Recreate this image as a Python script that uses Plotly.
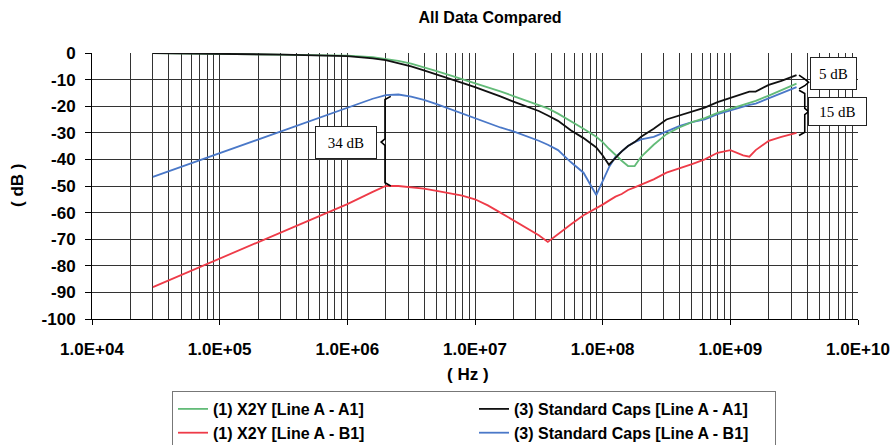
import plotly.graph_objects as go

# ---------------- data ----------------
freq_hz = [3.0e4, 1.0e5, 3.16e5, 1.0e6, 1.58e6, 2.0e6, 2.51e6, 3.16e6, 3.98e6, 5.01e6,
           6.31e6, 7.94e6, 1.0e7, 1.26e7, 1.58e7, 2.0e7, 2.51e7, 3.16e7, 3.72e7, 4.47e7,
           5.62e7, 7.08e7, 8.91e7, 1.0e8, 1.12e8, 1.26e8, 1.41e8, 1.58e8, 1.78e8, 2.0e8,
           2.51e8, 3.16e8, 3.98e8, 5.01e8, 6.31e8, 7.94e8, 1.0e9, 1.26e9, 1.41e9, 1.58e9,
           2.0e9, 2.51e9, 3.3e9]

x2y_a1 = [0.0, -0.3, -0.6, -1.0, -1.6, -2.2, -3.0, -4.0, -5.3, -6.8,
          -8.3, -9.8, -11.3, -12.8, -14.4, -16.2, -17.8, -19.4, -20.8, -22.8,
          -25.8, -28.5, -31.5, -33.5, -36.0, -38.5, -40.5, -42.5, -42.5, -39.0,
          -34.5, -30.5, -28.0, -26.0, -24.5, -22.5, -21.0, -19.5, -19.0, -18.0,
          -16.0, -14.0, -11.5]

std_a1 = [0.0, -0.3, -0.6, -1.2, -2.0, -2.7, -3.8, -5.0, -6.5, -8.0,
          -9.6, -11.2, -12.8, -14.5, -16.3, -18.3, -20.0, -21.8, -23.5, -25.5,
          -29.0, -32.0, -35.5, -38.5, -42.0, -39.5, -37.0, -35.0, -33.5, -31.5,
          -28.5, -25.0, -23.5, -22.0, -20.5, -18.5, -17.0, -15.5, -14.5, -14.5,
          -12.0, -10.5, -8.3]

x2y_b1 = [-88.0, -77.3, -67.0, -56.8, -52.2, -50.0, -50.0, -50.4, -51.0, -51.8,
          -52.6, -53.6, -55.0, -57.3, -60.0, -62.8, -65.5, -68.5, -71.0, -68.0,
          -64.5, -61.0, -58.5, -57.0, -55.5, -54.0, -53.0, -51.5, -50.5, -49.5,
          -47.5, -45.0, -43.5, -41.8, -40.0, -37.5, -36.5, -38.5, -39.0, -36.5,
          -33.0, -31.5, -30.0]

std_b1 = [-46.6, -37.6, -29.0, -20.4, -17.2, -15.8, -15.6, -16.4, -17.6, -19.2,
          -21.0, -22.8, -24.5, -26.2, -28.0, -29.5, -31.2, -33.0, -34.5, -36.5,
          -41.0, -45.0, -53.4, -48.0, -43.0, -39.0, -37.0, -35.0, -33.5, -32.5,
          -31.5, -29.5, -27.5, -26.0, -25.0, -23.0, -21.5, -20.0, -19.5, -19.0,
          -17.0, -15.0, -12.8]

names = ["(1) X2Y [Line A - A1]", "(3) Standard Caps [Line A - A1]",
         "(1) X2Y [Line A - B1]", "(3) Standard Caps [Line A - B1]"]

tick_vals = [1e4, 1e5, 1e6, 1e7, 1e8, 1e9, 1e10]
tick_text = ["1.0E+04", "1.0E+05", "1.0E+06", "1.0E+07", "1.0E+08", "1.0E+09", "1.0E+10"]
y_ticks = list(range(-100, 1, 10))

# brace annotations: (log10 freq, top dB, bottom dB, tip dB, direction,
#                     label, label log10 x, label y, box w, box h)
braces = [
    (6.295, -16.3, -50.0, -33.5, -1, "34 dB", 5.989, -33.6, 60, 31),
    (9.583, -8.3, -13.5, -11.0, 1, "5 dB", 9.807, -7.7, 45, 31),
    (9.583, -14.0, -31.0, -22.0, 1, "15 dB", 9.838, -22.0, 57, 27),
]

GREEN = "#63bb78"
BLACK = "#111111"
RED = "#ee3b48"
BLUE = "#4a78c8"

SANS = "Liberation Sans, Arial, sans-serif"
SERIF = "Liberation Serif, Times New Roman, serif"

fig = go.Figure()
series = [
    (x2y_b1, names[2], RED, 3),
    (std_b1, names[3], BLUE, 4),
    (x2y_a1, names[0], GREEN, 1),
    (std_a1, names[1], BLACK, 2),
]
for vals, nm, col, rank in series:
    fig.add_trace(go.Scatter(x=freq_hz, y=vals, mode="lines", name=nm,
                             line=dict(color=col, width=1.8), legendrank=rank))

for L, top, bot, mid, d, label, lx, ly, bw, bh in braces:
    w, t, s = 0.045, 0.03, 1.2
    bx = [L - d * w, L, L, L + d * t, L, L, L - d * w]
    by = [top, top - s, mid + s, mid, mid - s, bot + s, bot]
    fig.add_trace(go.Scatter(x=[10 ** v for v in bx], y=by, mode="lines",
                             line=dict(color="black", width=1.6),
                             showlegend=False, hoverinfo="skip"))
    fig.add_annotation(x=lx, y=ly, xref="x", yref="y", text=label, showarrow=False,
                       font=dict(family=SERIF, size=15, color="black"),
                       width=bw, height=bh, borderpad=0,
                       bgcolor="white", bordercolor="#222", borderwidth=1)

# axis titles
fig.add_annotation(x=0.491, y=-0.2105, xref="paper", yref="paper", text="<b>( Hz )</b>",
                   showarrow=False, xanchor="center", yanchor="middle",
                   font=dict(family=SANS, size=17, color="black"))
fig.add_annotation(x=-0.0979, y=0.5, xref="paper", yref="paper", text="<b>( dB )</b>",
                   showarrow=False, xanchor="center", yanchor="middle", textangle=-90,
                   font=dict(family=SANS, size=17, color="black"))

tick_font = dict(family=SANS, size=17, color="black")
fig.update_layout(
    width=892, height=445,
    margin=dict(l=92, r=34, t=53, b=126),
    paper_bgcolor="white", plot_bgcolor="white",
    title=dict(text="<b>All Data Compared</b>", x=0.5196, xref="paper", xanchor="center",
               y=1 - 17 / 445, yref="container", yanchor="middle",
               font=dict(family=SANS, size=16, color="black")),
    showlegend=True,
    legend=dict(orientation="h", x=474 / 892, xref="container", xanchor="center",
                y=1 - 391 / 445, yref="container", yanchor="top",
                entrywidth=256, entrywidthmode="pixels",
                font=dict(family=SANS, size=16, color="black", weight="bold"),
                bordercolor="#777", borderwidth=1, bgcolor="white", tracegroupgap=0),
)
fig.update_xaxes(type="log", range=[4, 10], tickvals=tick_vals, automargin=False,
                 ticktext=["<b>%s</b>" % t for t in tick_text],
                 showgrid=True, gridcolor="#333333", gridwidth=1,
                 minor=dict(dtick="D1", showgrid=True, gridcolor="#333333", gridwidth=1, ticks=""),
                 ticks="outside", ticklen=5, tickcolor="black", ticklabelstandoff=10,
                 showline=True, linecolor="black", linewidth=1,
                 tickfont=tick_font, zeroline=False)
fig.update_yaxes(range=[-100, 0], tickvals=y_ticks, automargin=False,
                 ticktext=["<b>%d</b>" % v for v in y_ticks],
                 showgrid=True, gridcolor="#333333", gridwidth=1,
                 ticks="outside", ticklen=6, tickcolor="black", ticklabelstandoff=6,
                 showline=True, linecolor="black", linewidth=1,
                 tickfont=tick_font, zeroline=False)

fig.write_html("out.html")
